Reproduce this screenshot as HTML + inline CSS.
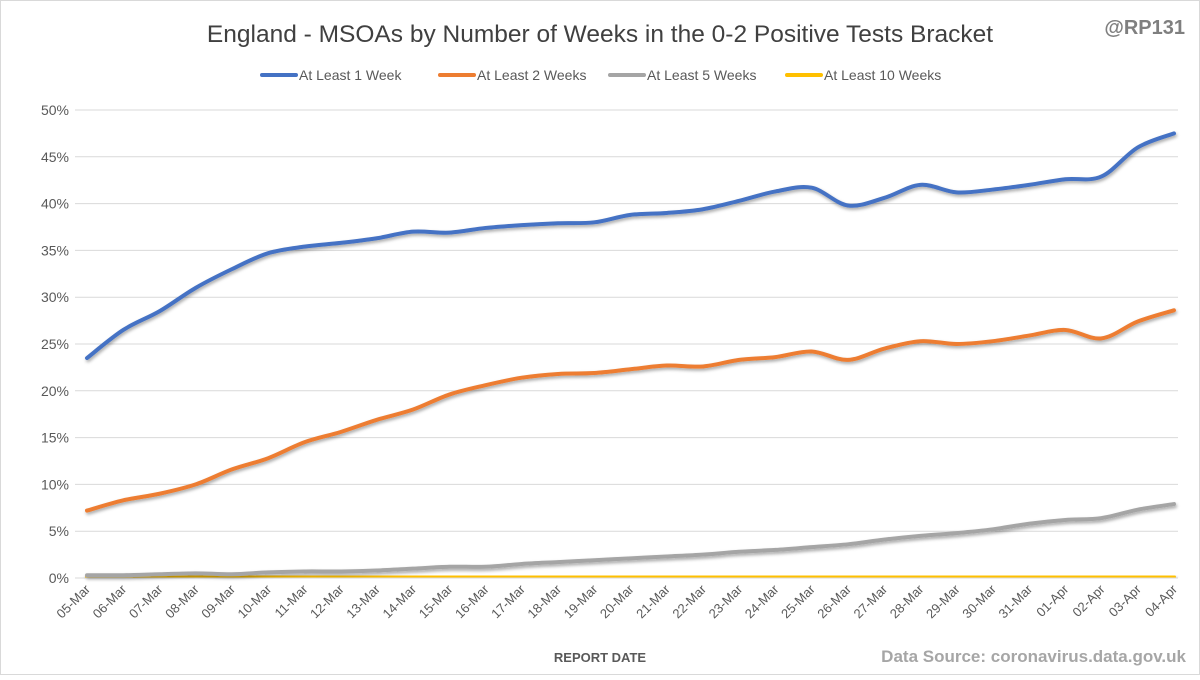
<!DOCTYPE html>
<html><head><meta charset="utf-8"><style>
body{margin:0;background:#fff;font-family:"Liberation Sans",sans-serif}
svg text{font-family:"Liberation Sans",sans-serif}
</style></head><body>
<svg id="chart" width="1200" height="675" viewBox="0 0 1200 675">
<defs><filter id="sh" x="-5%" y="-20%" width="110%" height="140%"><feDropShadow dx="1" dy="2" stdDeviation="1.5" flood-color="#000" flood-opacity="0.35"/></filter></defs>
<rect x="0.5" y="0.5" width="1199" height="674" fill="#fff" stroke="#d9d9d9"/>
<text x="600" y="42" text-anchor="middle" font-size="24.5" fill="#404040">England - MSOAs by Number of Weeks in the 0-2 Positive Tests Bracket</text>
<text x="1185" y="34" text-anchor="end" font-size="20" font-weight="bold" fill="#7f7f7f">@RP131</text>
<g id="grid"></g><g id="legend"></g><g id="series"></g><g id="xaxis"></g>
<text x="600" y="662" text-anchor="middle" font-size="13" font-weight="bold" fill="#595959">REPORT DATE</text>
<text x="1186" y="662" text-anchor="end" font-size="17" font-weight="bold" fill="#a6a6a6">Data Source: coronavirus.data.gov.uk</text>
</svg>
<script>
const categories=["05-Mar","06-Mar","07-Mar","08-Mar","09-Mar","10-Mar","11-Mar","12-Mar","13-Mar","14-Mar","15-Mar","16-Mar","17-Mar","18-Mar","19-Mar","20-Mar","21-Mar","22-Mar","23-Mar","24-Mar","25-Mar","26-Mar","27-Mar","28-Mar","29-Mar","30-Mar","31-Mar","01-Apr","02-Apr","03-Apr","04-Apr"];
const atLeast1=[23.5,26.5,28.5,31,33,34.7,35.4,35.8,36.3,37,36.9,37.4,37.7,37.9,38,38.8,39,39.4,40.3,41.3,41.7,39.8,40.6,42,41.2,41.5,42,42.6,42.9,46,47.5];
const atLeast2=[7.2,8.3,9,10,11.6,12.8,14.5,15.6,16.9,18,19.6,20.6,21.4,21.8,21.9,22.3,22.7,22.6,23.3,23.6,24.2,23.3,24.5,25.3,25,25.3,25.9,26.5,25.6,27.4,28.6];
const atLeast5=[0.3,0.3,0.4,0.5,0.4,0.6,0.7,0.7,0.8,1.0,1.2,1.2,1.5,1.7,1.9,2.1,2.3,2.5,2.8,3.0,3.3,3.6,4.1,4.5,4.8,5.2,5.8,6.2,6.4,7.3,7.9];
const atLeast10=[0.1,0.1,0.1,0.1,0.1,0.1,0.1,0.1,0.1,0.1,0.1,0.1,0.1,0.1,0.1,0.1,0.1,0.1,0.1,0.1,0.2,0.2,0.2,0.2,0.2,0.2,0.2,0.2,0.2,0.2,0.1];
const yTicks=[0,5,10,15,20,25,30,35,40,45,50];
const seriesNames=["At Least 1 Week","At Least 2 Weeks","At Least 5 Weeks","At Least 10 Weeks"];
const colors=["#4472c4","#ed7d31","#a5a5a5","#ffc000"];
const NS="http://www.w3.org/2000/svg";
const X0=87,X1=1174,Y0=578,Y1=110,L=75,R=1178;
const xs=i=>X0+(X1-X0)*i/(categories.length-1);
const ys=v=>Y0-(Y0-Y1)*v/50;
function mk(t,a,p){const e=document.createElementNS(NS,t);for(const k in a)e.setAttribute(k,a[k]);p.appendChild(e);return e;}
const grid=document.getElementById('grid');
yTicks.forEach(t=>{
 const l=mk('line',{x1:L,x2:R,y1:ys(t),y2:ys(t),stroke:'#d9d9d9','stroke-width':1},grid);
 
 
 const tx=mk('text',{x:L-6,y:ys(t)+5,'text-anchor':'end','font-size':14,fill:'#595959'},grid);tx.textContent=t+'%';
 
 
});
const xa=document.getElementById('xaxis');
categories.forEach((c,i)=>{
 const t=mk('text',{x:xs(i)+4,y:590,'text-anchor':'end','font-size':13,fill:'#595959',transform:`rotate(-45 ${xs(i)+4} 590)`},xa);t.textContent=c;
 
 
});
const sg=document.getElementById('series');
function path(vals){const p=vals.map((v,i)=>[xs(i),ys(v)]);let d=`M${p[0][0]},${p[0][1]}`;
 for(let i=0;i<p.length-1;i++){const a=p[Math.max(0,i-1)],b=p[i],c=p[i+1],e=p[Math.min(p.length-1,i+2)];
 d+=` C${b[0]+(c[0]-a[0])/6},${b[1]+(c[1]-a[1])/6} ${c[0]-(e[0]-b[0])/6},${c[1]-(e[1]-b[1])/6} ${c[0]},${c[1]}`;}return d;}
[atLeast10,atLeast5,atLeast2,atLeast1].forEach((s,k)=>{const idx=3-k;
 const p=mk('path',{d:path(s),fill:'none',stroke:colors[idx],'stroke-width':4,'stroke-linecap':'round',filter:'url(#sh)'},sg);
 
 
});
const lg=document.getElementById('legend');const lx=[262,440,610,787];
seriesNames.forEach((n,i)=>{const g=mk('g',{},lg);
 
 
 mk('line',{x1:lx[i],x2:lx[i]+34,y1:75,y2:75,stroke:colors[i],'stroke-width':4,'stroke-linecap':'round'},g);
 const t=mk('text',{x:lx[i]+37,y:80,'font-size':14,fill:'#595959'},g);t.textContent=n;});
</script>
</body></html>
